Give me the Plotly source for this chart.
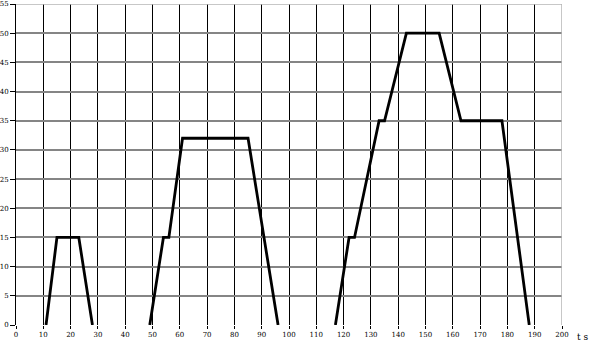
import plotly.graph_objects as go

# Time (s) and speed (km/h) of the cycle; None separates the drawn sections
time_s = [11, 15, 23, 28, None,
          49, 54, 56, 61, 85, 96, None,
          117, 122, 124, 133, 135, 143, 155, 163, 178, 188]
speed = [0, 15, 15, 0, None,
         0, 15, 15, 32, 32, 0, None,
         0, 15, 15, 35, 35, 50, 50, 35, 35, 0]

x_ticks = list(range(0, 201, 10))
x_labels = [str(v) for v in x_ticks]
y_ticks = list(range(0, 56, 5))
y_labels = [str(v) for v in y_ticks]

fig = go.Figure()
fig.add_trace(go.Scatter(x=time_s, y=speed, mode="lines",
                         line=dict(color="black", width=2.8),
                         connectgaps=False, hoverinfo="skip", cliponaxis=False))

font = dict(family="DejaVu Serif", size=7, color="black")

fig.update_layout(
    width=595, height=345,
    margin=dict(l=16, r=33, t=4, b=20, autoexpand=False),
    paper_bgcolor="white", plot_bgcolor="white",
    showlegend=False,
    font=font,
    xaxis=dict(range=[0, 200], tickvals=x_ticks, ticktext=x_labels,
               showgrid=True, gridcolor="black", gridwidth=1,
               zeroline=False, showline=False, automargin=False,
               ticks="outside", ticklen=3, tickcolor="black",
               tickfont=font, fixedrange=True),
    yaxis=dict(range=[0, 55], tickvals=y_ticks, ticktext=y_labels,
               showgrid=True, gridcolor="#858585", gridwidth=2,
               zeroline=False, showline=True, linecolor="black", linewidth=1,
               automargin=False,
               ticks="outside", ticklen=5, tickcolor="black",
               tickfont=font, fixedrange=True),
    shapes=[dict(type="line", xref="x", yref="paper", x0=200, x1=200, y0=0, y1=1,
                 line=dict(color="#b4b4b4", width=1.5), layer="above"),
            dict(type="line", xref="paper", yref="y", x0=0, x1=1, y0=55, y1=55,
                 line=dict(color="#b4b4b4", width=1.5), layer="above")],
    annotations=[dict(text="t s", xref="paper", yref="paper", x=1.038, y=0,
                      yshift=-12, showarrow=False, xanchor="center", yanchor="middle",
                      font=dict(family="DejaVu Serif", size=9, color="black"))],
)

fig.write_html("out.html", config={"displayModeBar": False},
               post_script="document.body.style.margin='0';document.body.style.overflow='hidden';")
